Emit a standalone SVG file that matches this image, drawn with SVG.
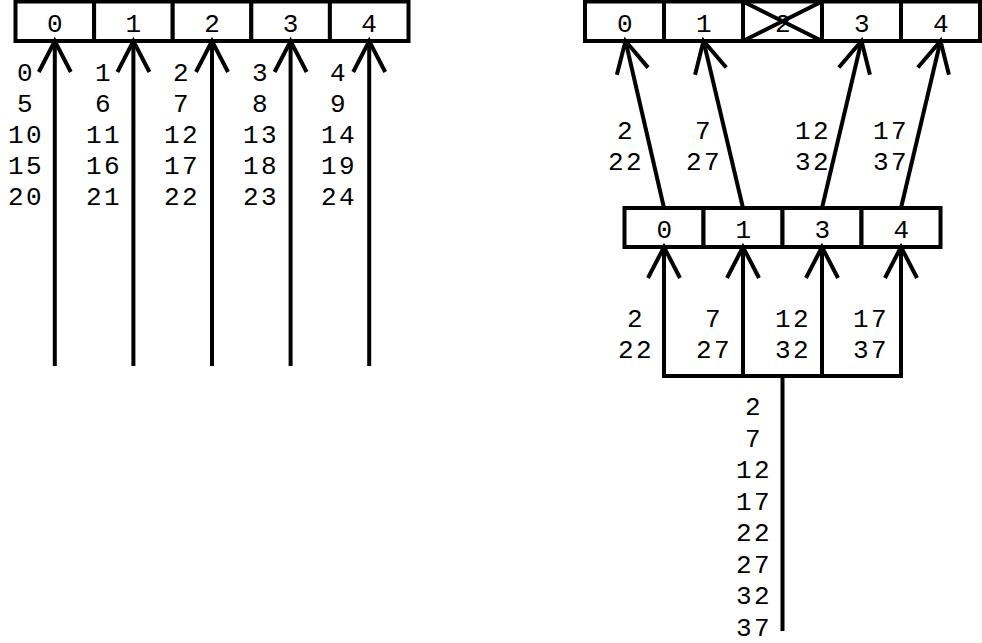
<svg xmlns="http://www.w3.org/2000/svg" width="982" height="643" viewBox="0 0 982 643">
<style>
.box{fill:#fff;stroke:#000;stroke-width:4}
.ln{fill:none;stroke:#000;stroke-width:4;stroke-linejoin:miter}
.t{font-family:"Liberation Mono","Courier New",monospace;font-size:26px;letter-spacing:2.5px;fill:#000;text-anchor:middle}
</style>
<defs>
<marker id="ah" markerUnits="userSpaceOnUse" orient="auto" refX="0" refY="0" markerWidth="40" markerHeight="40" overflow="visible">
<path d="M-31,-16 L0,0 L-31,16" fill="none" stroke="#000" stroke-width="4" stroke-linejoin="miter"/>
</marker>
</defs>
<rect width="982" height="643" fill="#fff"/>

<g id="left-array">
<g id="L0"><rect class="box" x="15.5" y="1.5" width="78.6" height="39.5"/><text class="t" x="56" y="32">0</text></g>
<g id="L1"><rect class="box" x="94.1" y="1.5" width="78.6" height="39.5"/><text class="t" x="134.6" y="32">1</text></g>
<g id="L2"><rect class="box" x="172.7" y="1.5" width="78.6" height="39.5"/><text class="t" x="213.2" y="32">2</text></g>
<g id="L3"><rect class="box" x="251.3" y="1.5" width="78.6" height="39.5"/><text class="t" x="291.8" y="32">3</text></g>
<g id="L4"><rect class="box" x="329.9" y="1.5" width="78.6" height="39.5"/><text class="t" x="370.4" y="32">4</text></g>
</g>

<g id="right-array">
<g id="R0"><rect class="box" x="585" y="1.5" width="79" height="39.5"/><text class="t" x="626" y="32">0</text></g>
<g id="R1"><rect class="box" x="664" y="1.5" width="79" height="39.5"/><text class="t" x="705" y="32">1</text></g>
<g id="R2"><rect class="box" x="743" y="1.5" width="79" height="39.5"/><text class="t" x="784" y="32">2</text><path class="ln" d="M743,1.5 L822,41 M743,41 L822,1.5" stroke-width="3.5"/></g>
<g id="R3"><rect class="box" x="822" y="1.5" width="79" height="39.5"/><text class="t" x="863" y="32">3</text></g>
<g id="R4"><rect class="box" x="901" y="1.5" width="79" height="39.5"/><text class="t" x="942" y="32">4</text></g>
</g>

<g id="mid-array">
<g id="M0"><rect class="box" x="624.5" y="208" width="79" height="39"/><text class="t" x="665.5" y="238">0</text></g>
<g id="M1"><rect class="box" x="703.5" y="208" width="79" height="39"/><text class="t" x="744.5" y="238">1</text></g>
<g id="M3"><rect class="box" x="782.5" y="208" width="79" height="39"/><text class="t" x="823.5" y="238">3</text></g>
<g id="M4"><rect class="box" x="861.5" y="208" width="79" height="39"/><text class="t" x="902.5" y="238">4</text></g>
</g>

<g id="connectors">
<path class="ln" d="M54.8,366 L54.8,41" marker-end="url(#ah)"/>
<path class="ln" d="M133.4,366 L133.4,41" marker-end="url(#ah)"/>
<path class="ln" d="M212,366 L212,41" marker-end="url(#ah)"/>
<path class="ln" d="M290.6,366 L290.6,41" marker-end="url(#ah)"/>
<path class="ln" d="M369.2,366 L369.2,41" marker-end="url(#ah)"/>

<path class="ln" d="M664,208 L625.5,41" marker-end="url(#ah)"/>
<path class="ln" d="M743,208 L703.5,41" marker-end="url(#ah)"/>
<path class="ln" d="M822,208 L861.5,41" marker-end="url(#ah)"/>
<path class="ln" d="M901,208 L940.5,41" marker-end="url(#ah)"/>

<path class="ln" d="M664,376 L664,247" marker-end="url(#ah)"/>
<path class="ln" d="M743,376 L743,247" marker-end="url(#ah)"/>
<path class="ln" d="M822,376 L822,247" marker-end="url(#ah)"/>
<path class="ln" d="M901,376 L901,247" marker-end="url(#ah)"/>
<path class="ln" d="M662,376 L903,376"/>
<path class="ln" d="M782.5,376 L782.5,631"/>
</g>

<g id="labels">
<text class="t" x="26" y="81">0</text><text class="t" x="26" y="112">5</text><text class="t" x="26" y="143">10</text><text class="t" x="26" y="174">15</text><text class="t" x="26" y="205">20</text>
<text class="t" x="104" y="81">1</text><text class="t" x="104" y="112">6</text><text class="t" x="104" y="143">11</text><text class="t" x="104" y="174">16</text><text class="t" x="104" y="205">21</text>
<text class="t" x="182" y="81">2</text><text class="t" x="182" y="112">7</text><text class="t" x="182" y="143">12</text><text class="t" x="182" y="174">17</text><text class="t" x="182" y="205">22</text>
<text class="t" x="261" y="81">3</text><text class="t" x="261" y="112">8</text><text class="t" x="261" y="143">13</text><text class="t" x="261" y="174">18</text><text class="t" x="261" y="205">23</text>
<text class="t" x="339" y="81">4</text><text class="t" x="339" y="112">9</text><text class="t" x="339" y="143">14</text><text class="t" x="339" y="174">19</text><text class="t" x="339" y="205">24</text>

<text class="t" x="626" y="138.5">2</text><text class="t" x="626" y="170">22</text>
<text class="t" x="704" y="138.5">7</text><text class="t" x="704" y="170">27</text>
<text class="t" x="813" y="138.5">12</text><text class="t" x="813" y="170">32</text>
<text class="t" x="891" y="138.5">17</text><text class="t" x="891" y="170">37</text>

<text class="t" x="636" y="327">2</text><text class="t" x="636" y="358">22</text>
<text class="t" x="714" y="327">7</text><text class="t" x="714" y="358">27</text>
<text class="t" x="793" y="327">12</text><text class="t" x="793" y="358">32</text>
<text class="t" x="871" y="327">17</text><text class="t" x="871" y="358">37</text>

<text class="t" x="754" y="415">2</text>
<text class="t" x="754" y="446.5">7</text>
<text class="t" x="754" y="478">12</text>
<text class="t" x="754" y="509.5">17</text>
<text class="t" x="754" y="541">22</text>
<text class="t" x="754" y="572.5">27</text>
<text class="t" x="754" y="604">32</text>
<text class="t" x="754" y="635.5">37</text>
</g>
</svg>
